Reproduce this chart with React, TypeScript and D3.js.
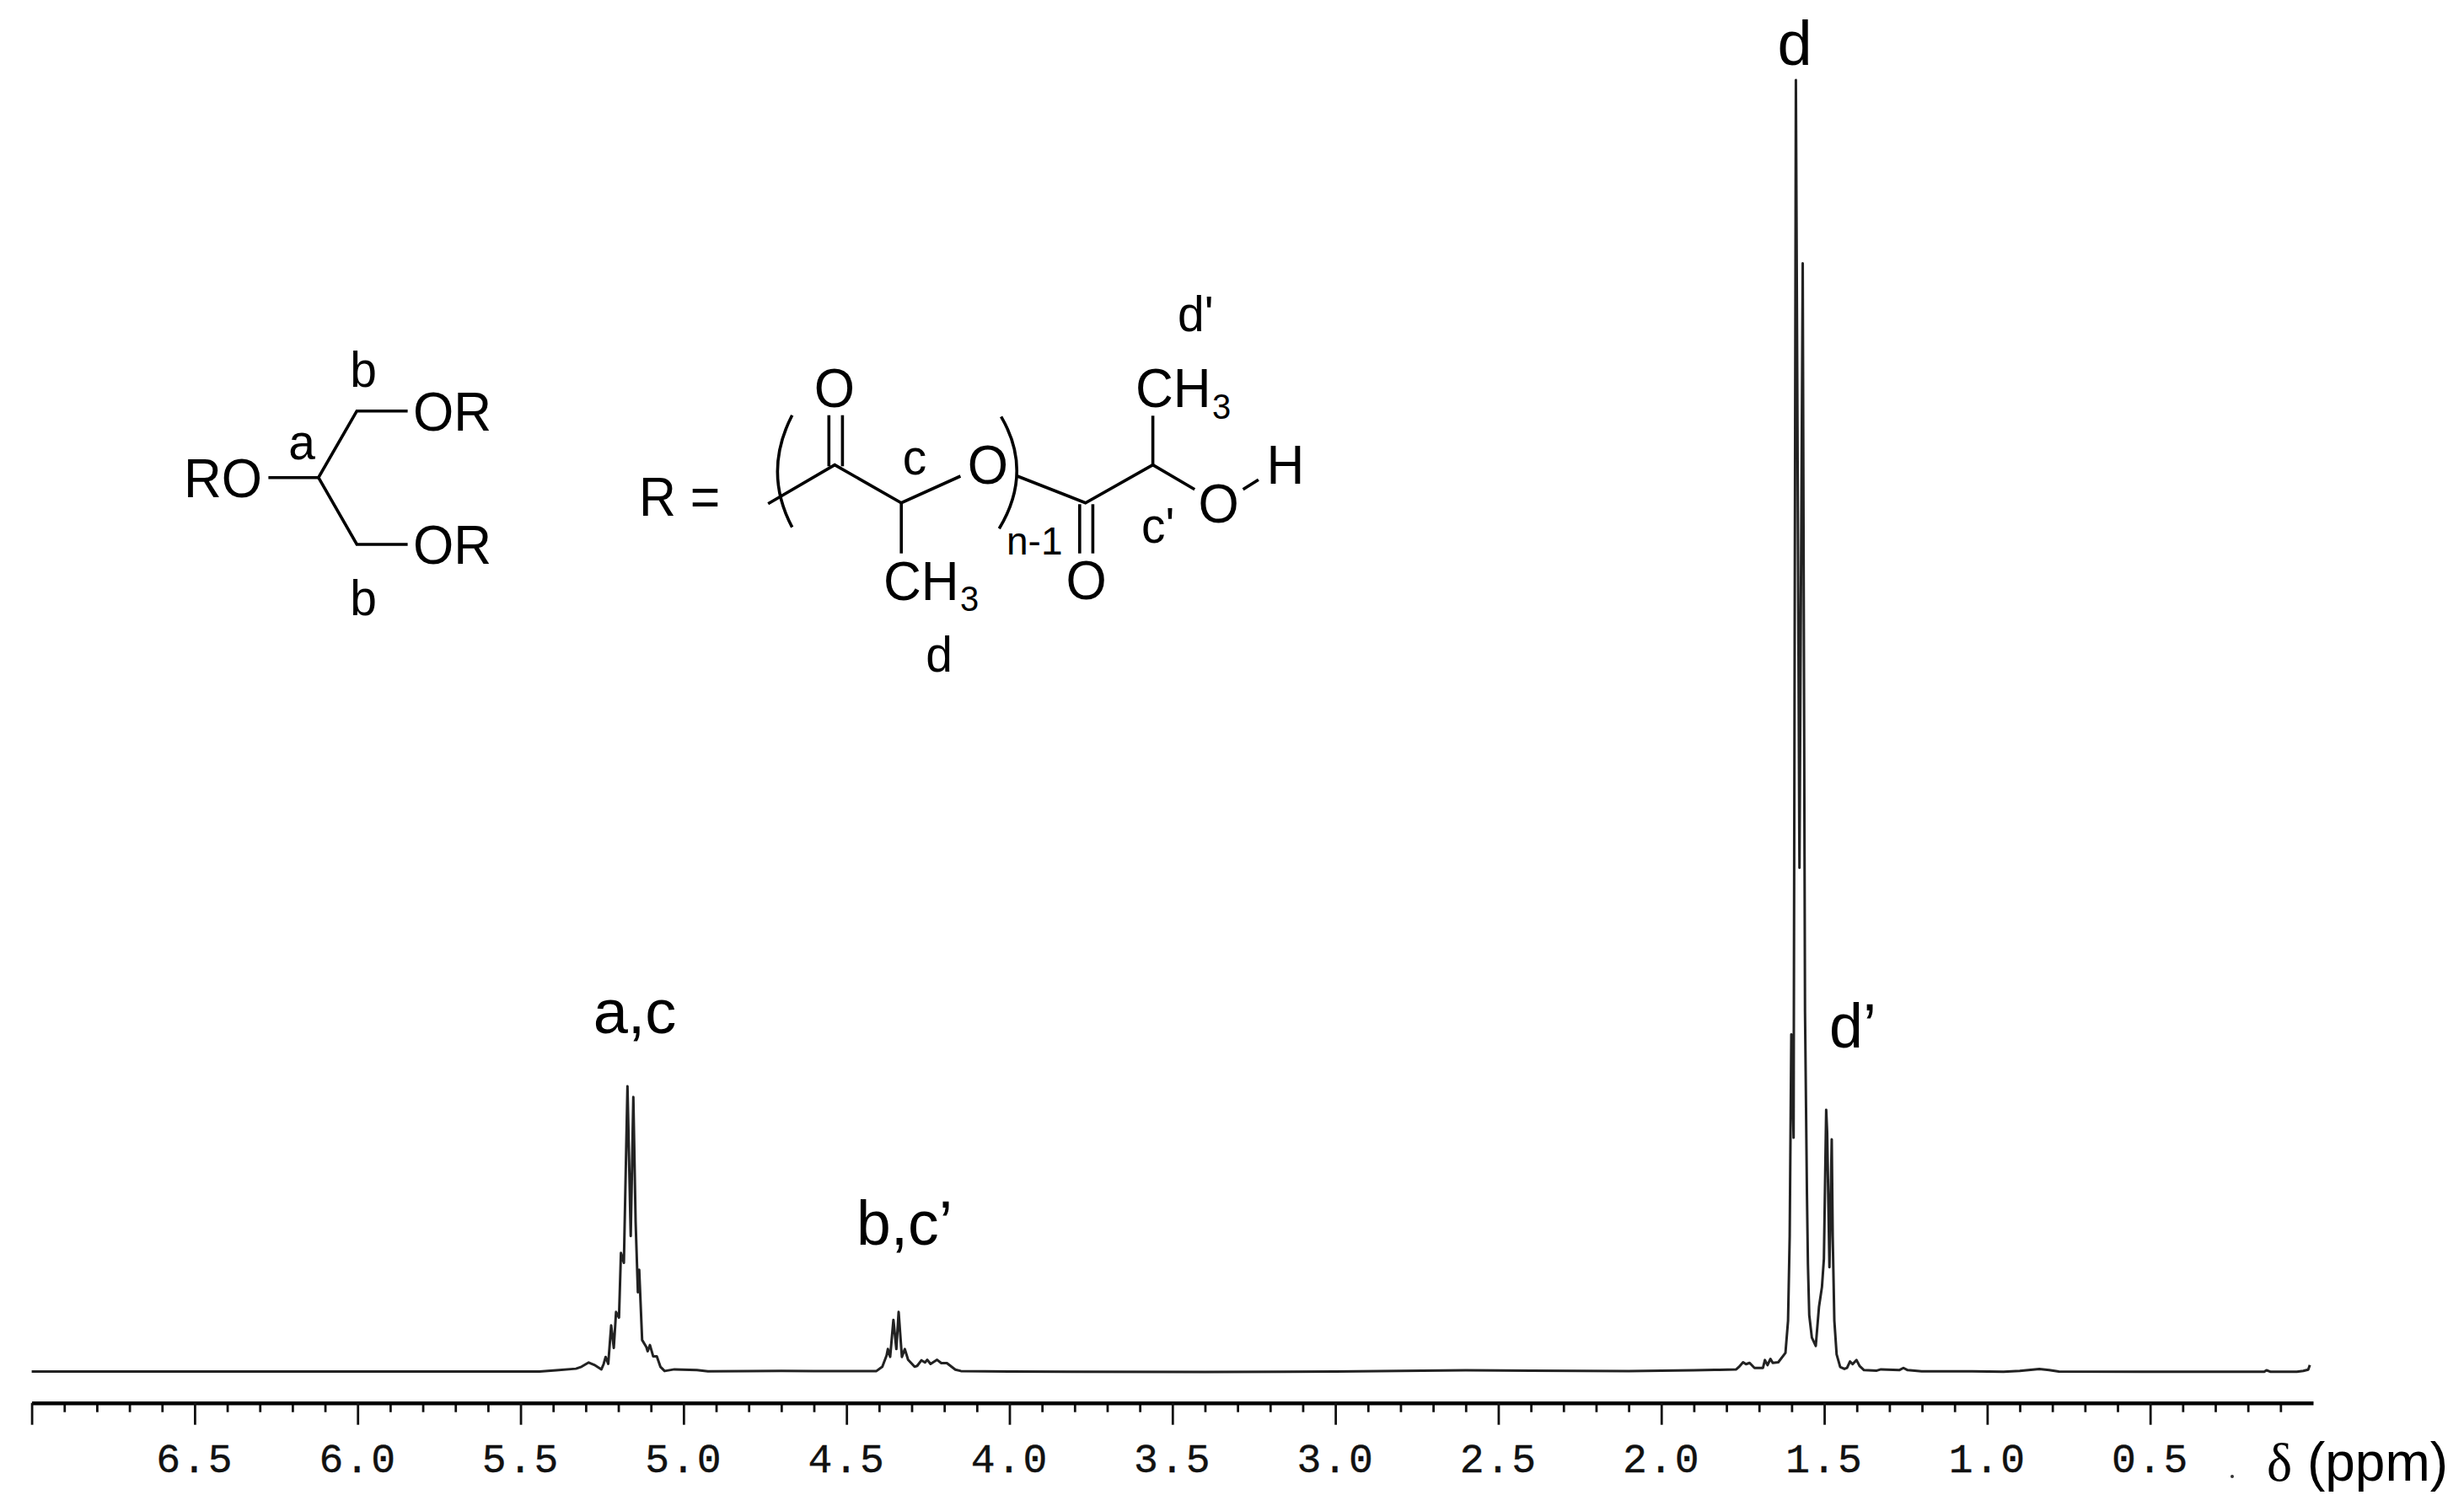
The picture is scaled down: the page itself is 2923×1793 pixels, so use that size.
import React, { useEffect, useRef } from "react";
import * as d3 from "d3";

// chemical shift (ppm) and intensity (tallest peak = 100)
const shifts = [
  7.0, 5.5, 5.442, 5.39, 5.33, 5.313, 5.291, 5.274, 5.252, 5.245, 5.239, 5.231, 5.222, 5.214, 5.207, 5.198, 5.192, 5.183,
  5.172, 5.162, 5.154, 5.147, 5.14, 5.136, 5.127, 5.114, 5.11, 5.103, 5.093, 5.082, 5.071, 5.058, 5.028, 4.959, 4.925,
  4.8, 4.7, 4.6, 4.5, 4.408, 4.39, 4.377, 4.373, 4.366, 4.356, 4.347, 4.34, 4.33, 4.321, 4.311, 4.291, 4.283, 4.27,
  4.259, 4.252, 4.242, 4.222, 4.209, 4.192, 4.166, 4.149, 4.0, 3.8, 3.4, 3.0, 2.8, 2.6, 2.4, 2.1, 1.9, 1.822, 1.77,
  1.762, 1.749, 1.74, 1.729, 1.714, 1.688, 1.682, 1.674, 1.665, 1.658, 1.641, 1.619, 1.611, 1.606, 1.601, 1.594, 1.587,
  1.576, 1.566, 1.559, 1.553, 1.55, 1.546, 1.538, 1.526, 1.516, 1.507, 1.501, 1.494, 1.491, 1.484, 1.477, 1.474, 1.469,
  1.462, 1.451, 1.438, 1.43, 1.421, 1.413, 1.401, 1.391, 1.378, 1.339, 1.326, 1.27, 1.257, 1.244, 1.201, 1.046, 0.95,
  0.9, 0.86, 0.84, 0.81, 0.78, 0.5, 0.15, 0.143, 0.13, 0.05, 0.03, 0.015, 0.01,
];
const intensities = [
  0, 0, 0, 0.09, 0.22, 0.37, 0.7, 0.52, 0.17, 0.59, 1.13, 0.59, 3.57, 1.83, 4.61, 4.18, 9.18, 8.42,
  22.08, 10.49, 21.26, 11.58, 6.14, 7.88, 2.44, 1.89, 1.57, 2.05, 1.17, 1.17, 0.37, 0.04, 0.17, 0.11, 0.02,
  0.03, 0.05, 0.04, 0.03, 0.04, 0.37, 1.24, 1.74, 1.13, 4.0, 1.74, 4.61, 1.13, 1.74, 0.91, 0.37, 0.44, 0.87,
  0.7, 0.91, 0.59, 0.91, 0.65, 0.65, 0.15, 0.04, 0, -0.02, -0.03, 0, 0.05, 0.1, 0.06, 0.03, 0.1, 0.13, 0.17,
  0.35, 0.72, 0.57, 0.67, 0.28, 0.28, 0.89, 0.5, 0.98, 0.67, 0.72, 1.44, 3.94, 10.47, 26.1, 18.1, 100,
  39, 85.8, 27.9, 13.7, 8.3, 4.37, 2.63, 1.98, 5.03, 6.55, 8.73, 20.26, 18.5, 8.07, 17.97, 10.47, 3.94,
  1.33, 0.35, 0.2, 0.28, 0.78, 0.57, 0.89, 0.41, 0.11, 0.07, 0.17, 0.11, 0.28, 0.11, 0.02, 0.02, -0.02,
  0.05, 0.15, 0.2, 0.12, 0, -0.02, -0.02, 0.1, -0.02, -0.02, 0.05, 0.15, 0.5,
];

const majorTicks = [7.0, 6.5, 6.0, 5.5, 5.0, 4.5, 4.0, 3.5, 3.0, 2.5, 2.0, 1.5, 1.0, 0.5];
const minorTicks = d3.range(1, 70).map((d) => d / 10).filter((d) => Math.round(d * 10) % 5 !== 0);

const W = 2923;
const H = 1793;
const AXIS_Y = 1664.7;
const SANS = "'Liberation Sans', Arial, sans-serif";

// structure drawing, in page pixels
const bonds = [
  "M318.4,566.7 L377.8,566.7 L423.3,487.7 L483.6,487.7",
  "M377.8,566.7 L423.3,646 L483.6,646",
  "M911.2,597.7 L990.2,551.7 L1069.2,596.7 L1139.4,565",
  "M1069.2,596.7 L1069.2,656.7",
  "M983.3,492.7 L983.3,553.3",
  "M999.4,492.7 L999.4,553.3",
  "M1206.9,565 L1287.7,596.7 L1367.6,551.7 L1417.2,580.7",
  "M1367.6,551.7 L1367.6,493.3",
  "M1280.8,598.3 L1280.8,656.7",
  "M1296.4,598.3 L1296.4,656.7",
  "M1474.6,580.7 L1492.9,569.3",
  "M939.7,492.7 Q905,560 939.7,625.7",
  "M1187.6,494.3 Q1226,560 1185.3,627.3",
];

// k squeezes the text sideways, the reference type is a little condensed
type Label = { t: string; x: number; y: number; s: number; k: number; a?: string };
const labels: Label[] = [
  { t: "d", x: 2129, y: 77, s: 74, k: 1, a: "middle" },
  { t: "a,c", x: 753, y: 1226, s: 74, k: 1, a: "middle" },
  { t: "b,c’", x: 1016, y: 1477, s: 74, k: 0.99 },
  { t: "d’", x: 2170, y: 1243, s: 74, k: 0.97 },
  { t: "RO", x: 218, y: 590, s: 64, k: 0.97 },
  { t: "OR", x: 490, y: 510.7, s: 64, k: 0.97 },
  { t: "OR", x: 490, y: 669.3, s: 64, k: 0.97 },
  { t: "a", x: 358, y: 545, s: 60, k: 0.95, a: "middle" },
  { t: "b", x: 431, y: 459, s: 60, k: 0.95, a: "middle" },
  { t: "b", x: 431, y: 730, s: 60, k: 0.95, a: "middle" },
  { t: "R =", x: 758, y: 611.7, s: 64, k: 0.95 },
  { t: "O", x: 990, y: 482.7, s: 64, k: 0.97, a: "middle" },
  { t: "c", x: 1085, y: 562.7, s: 60, k: 0.95, a: "middle" },
  { t: "O", x: 1172, y: 574.3, s: 64, k: 0.97, a: "middle" },
  { t: "n-1", x: 1194, y: 658, s: 46, k: 1 },
  { t: "O", x: 1288.6, y: 710.7, s: 64, k: 0.97, a: "middle" },
  { t: "c'", x: 1354, y: 644, s: 60, k: 0.95 },
  { t: "CH", x: 1347, y: 482.7, s: 64, k: 0.97 },
  { t: "3", x: 1438, y: 496.7, s: 42, k: 0.95 },
  { t: "O", x: 1445.7, y: 620, s: 64, k: 0.97, a: "middle" },
  { t: "H", x: 1525, y: 574.3, s: 64, k: 0.97, a: "middle" },
  { t: "CH", x: 1048, y: 711.7, s: 64, k: 0.97 },
  { t: "3", x: 1139, y: 725, s: 42, k: 0.95 },
  { t: "d", x: 1114, y: 796.7, s: 60, k: 0.95, a: "middle" },
  { t: "d'", x: 1397, y: 393.3, s: 60, k: 0.95 },
];

export default function App() {
  const axisRef = useRef<SVGGElement>(null);

  const x = d3.scaleLinear().domain([7, 0]).range([37.6, 2744]);
  const y = d3.scaleLinear().domain([0, 100]).range([1627.5, 95]);
  const line = d3
    .line<number>()
    .x((d) => x(d))
    .y((_, i) => y(intensities[i]));

  useEffect(() => {
    const g = d3.select(axisRef.current);
    g.selectAll("*").remove();

    const minor = g.append("g").call(
      d3.axisBottom(x).tickValues(minorTicks).tickSize(11).tickFormat(() => "")
    );
    minor.select(".domain").remove();

    const major = g.append("g").call(
      d3
        .axisBottom(x)
        .tickValues(majorTicks)
        .tickSize(26)
        .tickSizeOuter(0)
        .tickPadding(22)
        .tickFormat((d) => (d === 7 ? "" : d3.format(".1f")(d as number)))
    );
    major.select(".domain").attr("stroke", "#000").attr("stroke-width", 4.5);
    major
      .selectAll("text")
      .attr("font-family", "'Liberation Mono', monospace")
      .attr("font-size", 48)
      .attr("letter-spacing", 2)
      .attr("fill", "#111")
      .attr("stroke", "#111")
      .attr("stroke-width", 0.4);
    g.selectAll(".tick line").attr("stroke", "#111").attr("stroke-width", 2.8);
  }, []);

  return (
    <svg
      width={W}
      height={H}
      viewBox={`0 0 ${W} ${H}`}
      style={{ position: "absolute", left: 0, top: 0, background: "#fff" }}
    >
      <path d={line(shifts) || ""} fill="none" stroke="#222" strokeWidth={3} strokeLinejoin="round" />
      <g ref={axisRef} transform={`translate(0,${AXIS_Y})`} />

      <g fill="none" stroke="#000" strokeWidth={3.6}>
        {bonds.map((d, i) => (
          <path key={i} d={d} />
        ))}
      </g>
      <g fontFamily={SANS} fill="#000">
        {labels.map((l, i) => (
          <text
            key={i}
            transform={`translate(${l.x},${l.y}) scale(${l.k},1)`}
            fontSize={l.s}
            textAnchor={l.a || "start"}
          >
            {l.t}
          </text>
        ))}
      </g>

      <circle cx={2648} cy={1752} r={2} fill="#333" />
      <text x={2689} y={1757} fontFamily={SANS} fontSize={64} fill="#000">
        <tspan fontFamily="'Liberation Serif', serif">δ</tspan> (ppm)
      </text>
    </svg>
  );
}
